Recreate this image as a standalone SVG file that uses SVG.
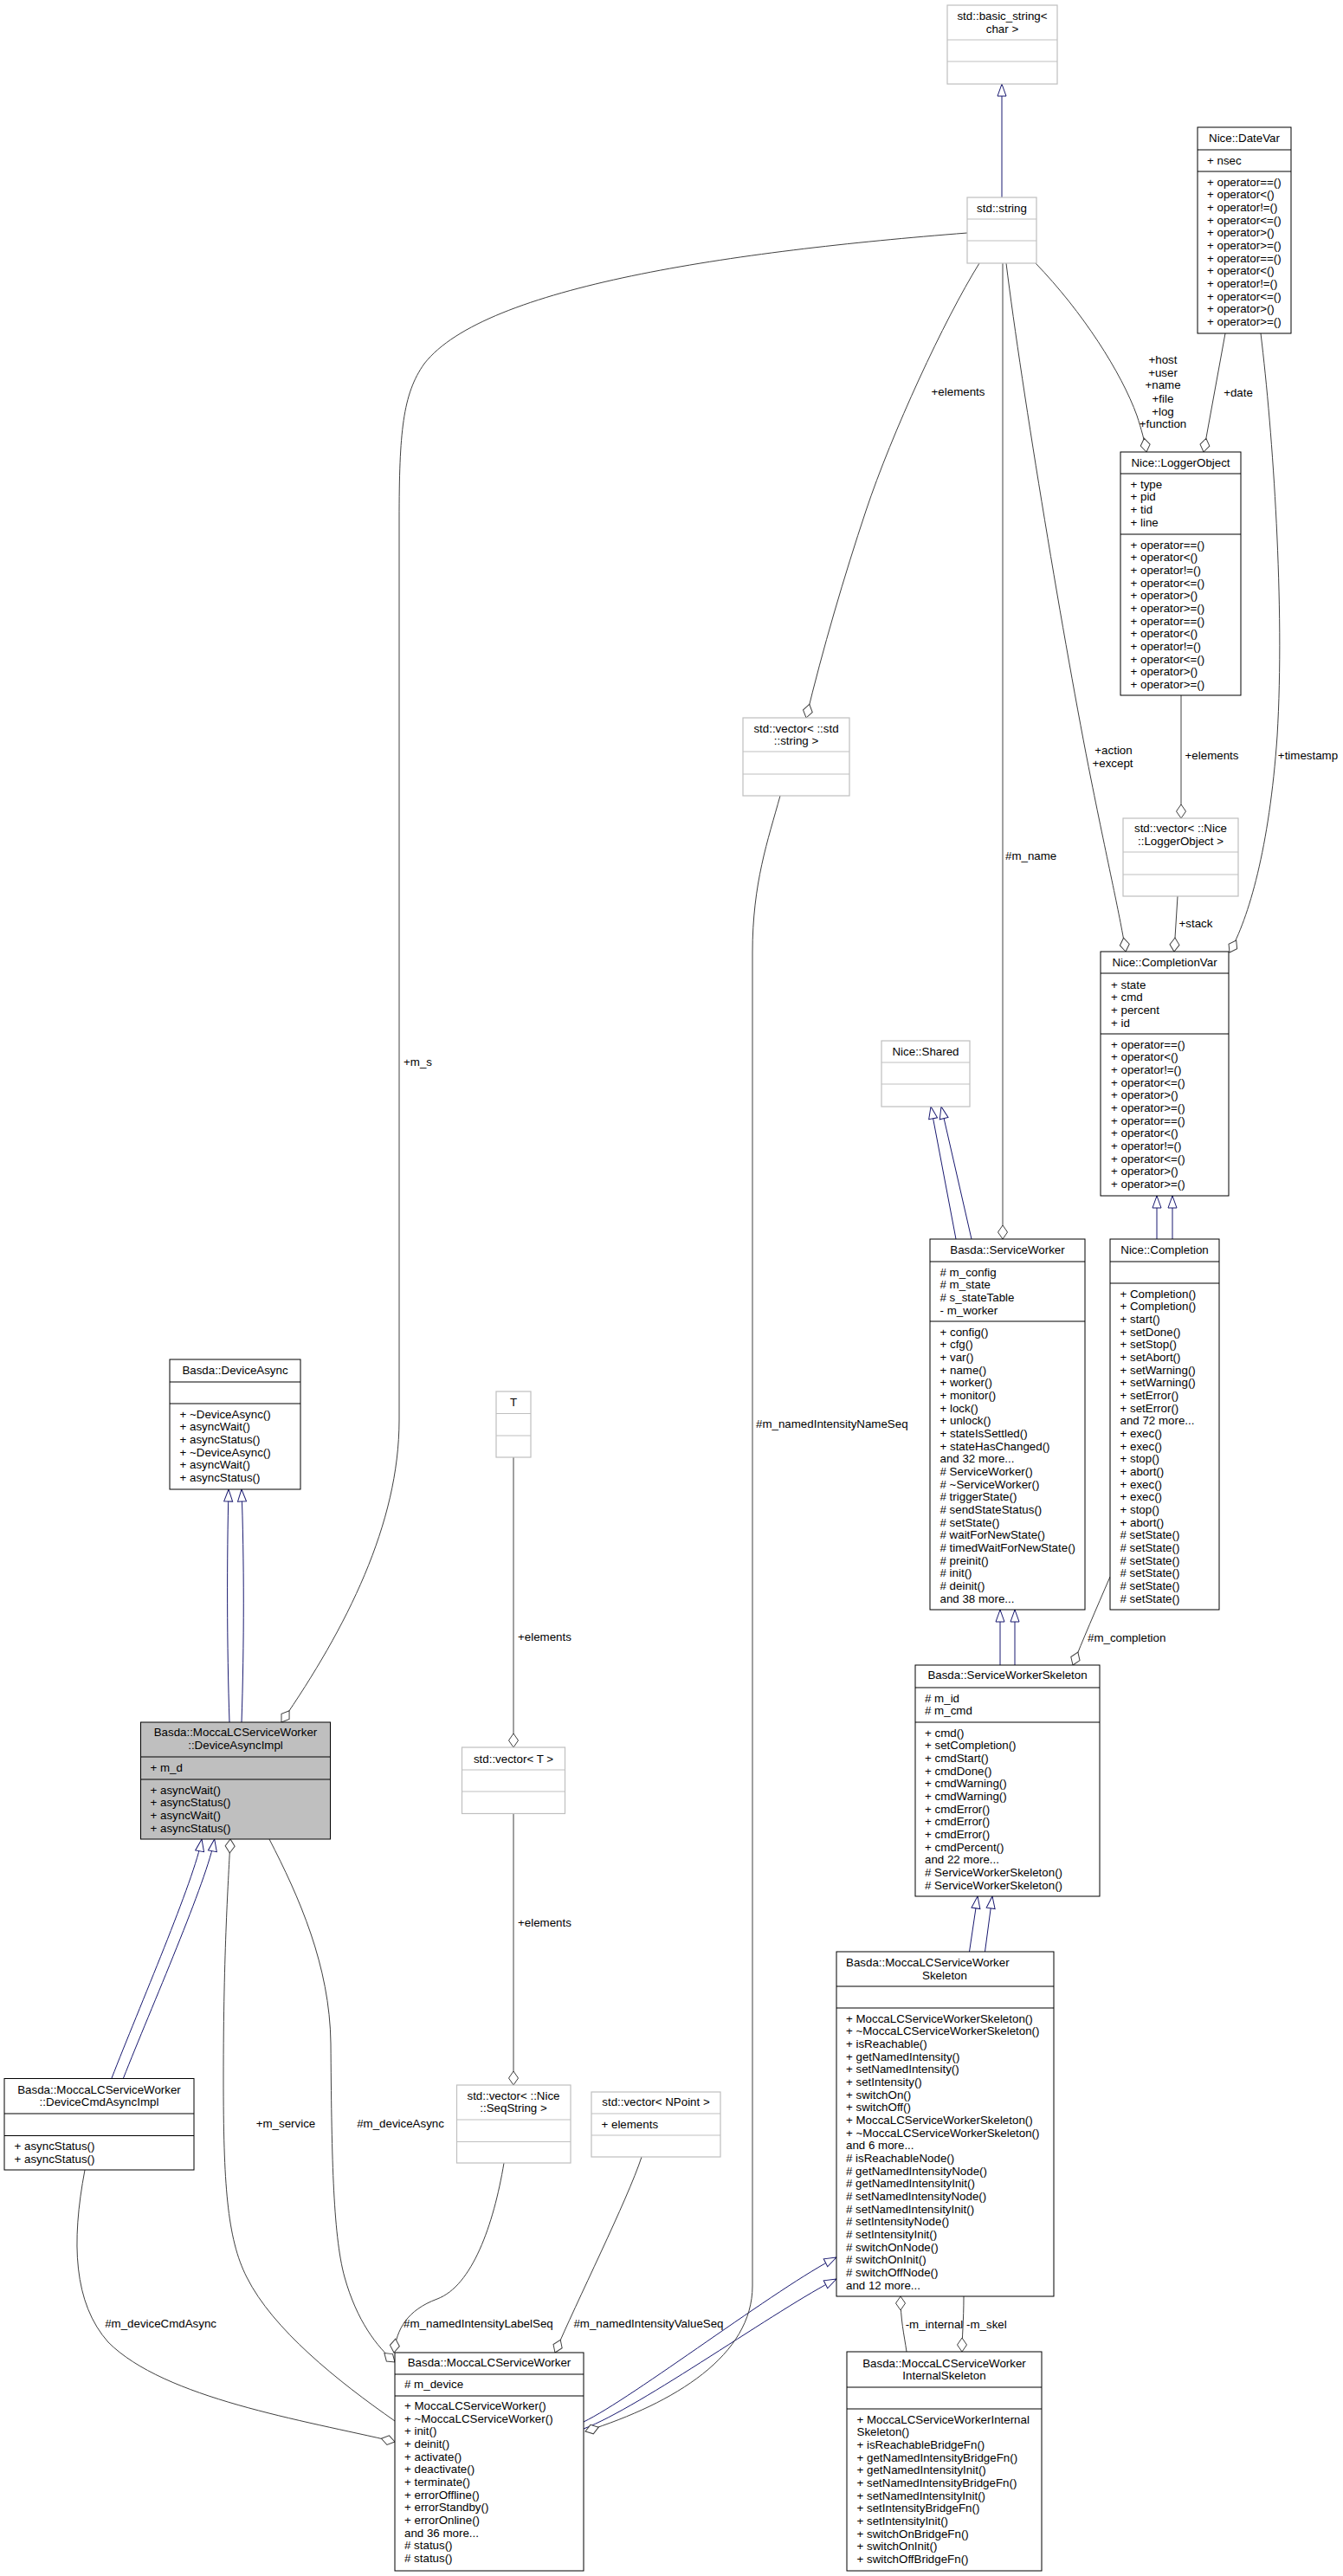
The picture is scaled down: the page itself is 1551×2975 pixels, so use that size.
<svg xmlns="http://www.w3.org/2000/svg" width="1551" height="2975" viewBox="0 0 1551 2975">
<style>
text{font-family:"Liberation Sans",Arial,Helvetica,sans-serif;font-size:13.33px;fill:#000}
.c{text-anchor:middle}
.n{fill:#fff;stroke:#000;stroke-width:1}
.g{fill:#fff;stroke:#bfbfbf;stroke-width:1.2}
.f{fill:#bfbfbf;stroke:#000;stroke-width:1}
.sn{stroke:#000;stroke-width:1}
.sg{stroke:#bfbfbf;stroke-width:1.2}
.e{fill:none;stroke:#404040;stroke-width:1}
.i{fill:none;stroke:#191970;stroke-width:1}
</style>
<defs>
<marker id="dm" markerUnits="userSpaceOnUse" markerWidth="18" markerHeight="13" refX="17" refY="6.5" orient="auto"><path d="M17,6.5 L9,1 L1,6.5 L9,12 Z" fill="#fff" stroke="#404040"/></marker>
<marker id="tr" markerUnits="userSpaceOnUse" markerWidth="16" markerHeight="12" refX="15" refY="6" orient="auto"><path d="M15,6 L1,1 L1,11 Z" fill="#fff" stroke="#191970"/></marker>
</defs>
<rect x="0" y="0" width="1551" height="2975" fill="#fff"/>
<g id="connectors">
<g class="inherit">
<path class="i" marker-end="url(#tr)" d="M1157,228 L1157,97"/>
<path class="i" marker-end="url(#tr)" d="M1104,1431 L1075,1278"/>
<path class="i" marker-end="url(#tr)" d="M1122,1431 L1087,1278"/>
<path class="i" marker-end="url(#tr)" d="M1336,1431 L1336,1381"/>
<path class="i" marker-end="url(#tr)" d="M1354,1431 L1354,1381"/>
<path class="i" marker-end="url(#tr)" d="M1155,1923 L1155,1859"/>
<path class="i" marker-end="url(#tr)" d="M1172,1923 L1172,1859"/>
<path class="i" marker-end="url(#tr)" d="M1119.5,2254 L1129,2190"/>
<path class="i" marker-end="url(#tr)" d="M1137.5,2254 L1146,2190"/>
<path class="i" marker-end="url(#tr)" d="M674,2797 C730,2770 900,2640 966,2607"/>
<path class="i" marker-end="url(#tr)" d="M674,2805 C740,2780 900,2665 966,2632"/>
<path class="i" marker-end="url(#tr)" d="M265,1989 C262,1900 262,1800 264,1720"/>
<path class="i" marker-end="url(#tr)" d="M279,1989 C282,1900 282,1800 279,1720"/>
<path class="i" marker-end="url(#tr)" d="M129,2400 C160,2320 225,2170 233,2124"/>
<path class="i" marker-end="url(#tr)" d="M142.5,2400 C174,2320 240,2170 247.7,2124"/>
</g>
<g class="usage">
<path class="e" marker-end="url(#dm)" d="M1117,269 C850,290 560,330 490,420 C465,455 461,500 461,600 L461,1640 C461,1760 400,1880 325,1989"/>
<path class="e" marker-end="url(#dm)" d="M1131,304 C1090,370 1030,500 1000,590 C975,665 950,750 931,829"/>
<path class="e" marker-end="url(#dm)" d="M1158,304 L1158,1431"/>
<path class="e" marker-end="url(#dm)" d="M1162,304 C1180,450 1230,750 1260,900 C1280,1000 1294,1060 1300,1099"/>
<path class="e" marker-end="url(#dm)" d="M1196,304 C1250,360 1295,430 1313,480 C1318,495 1322,510 1324,522"/>
<path class="e" marker-end="url(#dm)" d="M1415,385 L1390,522"/>
<path class="e" marker-end="url(#dm)" d="M1456,385 C1470,500 1484,700 1475,850 C1466,980 1442,1060 1420,1100"/>
<path class="e" marker-end="url(#dm)" d="M1364,803 L1364,945"/>
<path class="e" marker-end="url(#dm)" d="M1360,1035 L1356,1099"/>
<path class="e" marker-end="url(#dm)" d="M1282,1821 C1266,1858 1250,1895 1239,1923"/>
<path class="e" marker-end="url(#dm)" d="M1047,2716 C1044,2695 1040,2680 1040,2652"/>
<path class="e" marker-end="url(#dm)" d="M1113,2652 C1113,2680 1111,2700 1111,2716"/>
<path class="e" marker-end="url(#dm)" d="M593,1683 L593,2018"/>
<path class="e" marker-end="url(#dm)" d="M593,2095 L593,2408"/>
<path class="e" marker-end="url(#dm)" d="M582,2498 C570,2570 545,2640 505,2655 C470,2668 458,2690 455,2717"/>
<path class="e" marker-end="url(#dm)" d="M741,2491 C725,2540 665,2660 641,2717"/>
<path class="e" marker-end="url(#dm)" d="M901,919 C887,970 869,1020 869,1100 L869,2640 C869,2720 780,2775 676,2808"/>
<path class="e" marker-end="url(#dm)" d="M98,2506 C82,2590 85,2660 125,2705 C190,2770 350,2795 456,2820"/>
<path class="e" marker-end="url(#dm)" d="M456,2796 C390,2750 315,2690 285,2630 C262,2585 258,2520 258,2400 C258,2250 264,2170 266,2124"/>
<path class="e" marker-end="url(#dm)" d="M311,2124 C345,2190 381,2270 382,2360 C383,2480 384,2580 398,2630 C412,2680 435,2710 456,2728"/>
</g>
<g class="labels">
<text x="466" y="1230.5">+m_s</text>
<text class="c" x="1106.5" y="457">+elements</text>
<text x="1161" y="993">#m_name</text>
<text x="873" y="1649">#m_namedIntensityNameSeq</text>
<text x="598" y="1895">+elements</text>
<text x="598" y="2225">+elements</text>
<text class="c" x="330" y="2457">+m_service</text>
<text class="c" x="462.5" y="2457">#m_deviceAsync</text>
<text class="c" x="185.6" y="2688">#m_deviceCmdAsync</text>
<text class="c" x="552.4" y="2688">#m_namedIntensityLabelSeq</text>
<text x="662.4" y="2688">#m_namedIntensityValueSeq</text>
<text class="c" x="1079" y="2688.5">-m_internal</text>
<text class="c" x="1139.4" y="2688.5">-m_skel</text>
<text x="1256" y="1895.5">#m_completion</text>
<text class="c" x="1381" y="1071">+stack</text>
<text class="c" x="1399.5" y="877">+elements</text>
<text class="c" x="1510.5" y="877">+timestamp</text>
<text class="c" x="1286" y="870.5">+action</text>
<text class="c" x="1285" y="885.5">+except</text>
<text class="c" x="1343" y="420">+host</text>
<text class="c" x="1343" y="435">+user</text>
<text class="c" x="1343" y="449">+name</text>
<text class="c" x="1343" y="464.5">+file</text>
<text class="c" x="1343" y="479.5">+log</text>
<text class="c" x="1343" y="493.5">+function</text>
<text class="c" x="1430" y="457.5">+date</text>
</g>
</g>
<g id="basic_string">
<rect class="g" x="1094" y="6" width="127" height="91"/>
<line class="sg" x1="1094" y1="46" x2="1221" y2="46"/><line class="sg" x1="1094" y1="71" x2="1221" y2="71"/>
<text class="c" x="1157.5" y="22.5">std::basic_string&lt;</text>
<text class="c" x="1157.5" y="37.5">char &gt;</text>
</g>
<g id="std_string">
<rect class="g" x="1117" y="228" width="80" height="76"/>
<line class="sg" x1="1117" y1="253" x2="1197" y2="253"/><line class="sg" x1="1117" y1="278" x2="1197" y2="278"/>
<text class="c" x="1157" y="244.5">std::string</text>
</g>
<g id="DateVar">
<rect class="n" x="1383" y="147" width="108" height="238"/>
<line class="sn" x1="1383" y1="173" x2="1491" y2="173"/><line class="sn" x1="1383" y1="198" x2="1491" y2="198"/>
<text class="c" x="1437" y="163.5">Nice::DateVar</text>
<text x="1394" y="189.5">+ nsec</text>
<text><tspan x="1394" y="214.5">+ operator==()</tspan><tspan x="1394" y="229.2">+ operator&lt;()</tspan><tspan x="1394" y="243.8">+ operator!=()</tspan><tspan x="1394" y="258.5">+ operator&lt;=()</tspan><tspan x="1394" y="273.2">+ operator&gt;()</tspan><tspan x="1394" y="287.8">+ operator&gt;=()</tspan><tspan x="1394" y="302.5">+ operator==()</tspan><tspan x="1394" y="317.2">+ operator&lt;()</tspan><tspan x="1394" y="331.9">+ operator!=()</tspan><tspan x="1394" y="346.5">+ operator&lt;=()</tspan><tspan x="1394" y="361.2">+ operator&gt;()</tspan><tspan x="1394" y="375.9">+ operator&gt;=()</tspan></text>
</g>
<g id="LoggerObject">
<rect class="n" x="1294" y="522" width="139" height="281"/>
<line class="sn" x1="1294" y1="547" x2="1433" y2="547"/><line class="sn" x1="1294" y1="617" x2="1433" y2="617"/>
<text class="c" x="1363.5" y="538.5">Nice::LoggerObject</text>
<text><tspan x="1305.5" y="563.5">+ type</tspan><tspan x="1305.5" y="578.2">+ pid</tspan><tspan x="1305.5" y="592.8">+ tid</tspan><tspan x="1305.5" y="607.5">+ line</tspan></text>
<text><tspan x="1305.5" y="633.5">+ operator==()</tspan><tspan x="1305.5" y="648.2">+ operator&lt;()</tspan><tspan x="1305.5" y="662.8">+ operator!=()</tspan><tspan x="1305.5" y="677.5">+ operator&lt;=()</tspan><tspan x="1305.5" y="692.2">+ operator&gt;()</tspan><tspan x="1305.5" y="706.8">+ operator&gt;=()</tspan><tspan x="1305.5" y="721.5">+ operator==()</tspan><tspan x="1305.5" y="736.2">+ operator&lt;()</tspan><tspan x="1305.5" y="750.9">+ operator!=()</tspan><tspan x="1305.5" y="765.5">+ operator&lt;=()</tspan><tspan x="1305.5" y="780.2">+ operator&gt;()</tspan><tspan x="1305.5" y="794.9">+ operator&gt;=()</tspan></text>
</g>
<g id="vector_LoggerObject">
<rect class="g" x="1297" y="945" width="133" height="90"/>
<line class="sg" x1="1297" y1="984" x2="1430" y2="984"/><line class="sg" x1="1297" y1="1010" x2="1430" y2="1010"/>
<text class="c" x="1363.5" y="961">std::vector&lt; ::Nice</text>
<text class="c" x="1363.5" y="975.5">::LoggerObject &gt;</text>
</g>
<g id="CompletionVar">
<rect class="n" x="1271" y="1099" width="148" height="282"/>
<line class="sn" x1="1271" y1="1124" x2="1419" y2="1124"/><line class="sn" x1="1271" y1="1194" x2="1419" y2="1194"/>
<text class="c" x="1345" y="1115.5">Nice::CompletionVar</text>
<text><tspan x="1283" y="1141.5">+ state</tspan><tspan x="1283" y="1156.2">+ cmd</tspan><tspan x="1283" y="1170.8">+ percent</tspan><tspan x="1283" y="1185.5">+ id</tspan></text>
<text><tspan x="1283" y="1210.5">+ operator==()</tspan><tspan x="1283" y="1225.2">+ operator&lt;()</tspan><tspan x="1283" y="1239.8">+ operator!=()</tspan><tspan x="1283" y="1254.5">+ operator&lt;=()</tspan><tspan x="1283" y="1269.2">+ operator&gt;()</tspan><tspan x="1283" y="1283.8">+ operator&gt;=()</tspan><tspan x="1283" y="1298.5">+ operator==()</tspan><tspan x="1283" y="1313.2">+ operator&lt;()</tspan><tspan x="1283" y="1327.9">+ operator!=()</tspan><tspan x="1283" y="1342.5">+ operator&lt;=()</tspan><tspan x="1283" y="1357.2">+ operator&gt;()</tspan><tspan x="1283" y="1371.9">+ operator&gt;=()</tspan></text>
</g>
<g id="vector_string">
<rect class="g" x="858" y="829" width="123" height="90"/>
<line class="sg" x1="858" y1="868" x2="981" y2="868"/><line class="sg" x1="858" y1="894" x2="981" y2="894"/>
<text class="c" x="919.5" y="845.5">std::vector&lt; ::std</text>
<text class="c" x="919.5" y="859.5">::string &gt;</text>
</g>
<g id="Shared">
<rect class="g" x="1018" y="1202" width="102" height="76"/>
<line class="sg" x1="1018" y1="1227" x2="1120" y2="1227"/><line class="sg" x1="1018" y1="1252" x2="1120" y2="1252"/>
<text class="c" x="1069" y="1218.5">Nice::Shared</text>
</g>
<g id="ServiceWorker">
<rect class="n" x="1074" y="1431" width="179" height="428"/>
<line class="sn" x1="1074" y1="1457" x2="1253" y2="1457"/><line class="sn" x1="1074" y1="1526" x2="1253" y2="1526"/>
<text class="c" x="1163.5" y="1447.5">Basda::ServiceWorker</text>
<text><tspan x="1085.5" y="1473.5"># m_config</tspan><tspan x="1085.5" y="1488.2"># m_state</tspan><tspan x="1085.5" y="1502.8"># s_stateTable</tspan><tspan x="1085.5" y="1517.5">- m_worker</tspan></text>
<text><tspan x="1085.5" y="1542.5">+ config()</tspan><tspan x="1085.5" y="1557.2">+ cfg()</tspan><tspan x="1085.5" y="1571.8">+ var()</tspan><tspan x="1085.5" y="1586.5">+ name()</tspan><tspan x="1085.5" y="1601.2">+ worker()</tspan><tspan x="1085.5" y="1615.8">+ monitor()</tspan><tspan x="1085.5" y="1630.5">+ lock()</tspan><tspan x="1085.5" y="1645.2">+ unlock()</tspan><tspan x="1085.5" y="1659.9">+ stateIsSettled()</tspan><tspan x="1085.5" y="1674.5">+ stateHasChanged()</tspan><tspan x="1085.5" y="1689.2">and 32 more...</tspan><tspan x="1085.5" y="1703.9"># ServiceWorker()</tspan><tspan x="1085.5" y="1718.5"># ~ServiceWorker()</tspan><tspan x="1085.5" y="1733.2"># triggerState()</tspan><tspan x="1085.5" y="1747.9"># sendStateStatus()</tspan><tspan x="1085.5" y="1762.5"># setState()</tspan><tspan x="1085.5" y="1777.2"># waitForNewState()</tspan><tspan x="1085.5" y="1791.9"># timedWaitForNewState()</tspan><tspan x="1085.5" y="1806.6"># preinit()</tspan><tspan x="1085.5" y="1821.2"># init()</tspan><tspan x="1085.5" y="1835.9"># deinit()</tspan><tspan x="1085.5" y="1850.6">and 38 more...</tspan></text>
</g>
<g id="Completion">
<rect class="n" x="1282" y="1431" width="126" height="428"/>
<line class="sn" x1="1282" y1="1457" x2="1408" y2="1457"/><line class="sn" x1="1282" y1="1482" x2="1408" y2="1482"/>
<text class="c" x="1345" y="1447.5">Nice::Completion</text>
<text><tspan x="1293.5" y="1498.5">+ Completion()</tspan><tspan x="1293.5" y="1513.2">+ Completion()</tspan><tspan x="1293.5" y="1527.8">+ start()</tspan><tspan x="1293.5" y="1542.5">+ setDone()</tspan><tspan x="1293.5" y="1557.2">+ setStop()</tspan><tspan x="1293.5" y="1571.8">+ setAbort()</tspan><tspan x="1293.5" y="1586.5">+ setWarning()</tspan><tspan x="1293.5" y="1601.2">+ setWarning()</tspan><tspan x="1293.5" y="1615.9">+ setError()</tspan><tspan x="1293.5" y="1630.5">+ setError()</tspan><tspan x="1293.5" y="1645.2">and 72 more...</tspan><tspan x="1293.5" y="1659.9">+ exec()</tspan><tspan x="1293.5" y="1674.5">+ exec()</tspan><tspan x="1293.5" y="1689.2">+ stop()</tspan><tspan x="1293.5" y="1703.9">+ abort()</tspan><tspan x="1293.5" y="1718.5">+ exec()</tspan><tspan x="1293.5" y="1733.2">+ exec()</tspan><tspan x="1293.5" y="1747.9">+ stop()</tspan><tspan x="1293.5" y="1762.6">+ abort()</tspan><tspan x="1293.5" y="1777.2"># setState()</tspan><tspan x="1293.5" y="1791.9"># setState()</tspan><tspan x="1293.5" y="1806.6"># setState()</tspan><tspan x="1293.5" y="1821.2"># setState()</tspan><tspan x="1293.5" y="1835.9"># setState()</tspan><tspan x="1293.5" y="1850.6"># setState()</tspan></text>
</g>
<g id="ServiceWorkerSkeleton">
<rect class="n" x="1057" y="1923" width="213" height="267"/>
<line class="sn" x1="1057" y1="1949" x2="1270" y2="1949"/><line class="sn" x1="1057" y1="1989" x2="1270" y2="1989"/>
<text class="c" x="1163.5" y="1938.5">Basda::ServiceWorkerSkeleton</text>
<text><tspan x="1068" y="1965.5"># m_id</tspan><tspan x="1068" y="1980"># m_cmd</tspan></text>
<text><tspan x="1068" y="2005.5">+ cmd()</tspan><tspan x="1068" y="2020.2">+ setCompletion()</tspan><tspan x="1068" y="2034.8">+ cmdStart()</tspan><tspan x="1068" y="2049.5">+ cmdDone()</tspan><tspan x="1068" y="2064.2">+ cmdWarning()</tspan><tspan x="1068" y="2078.8">+ cmdWarning()</tspan><tspan x="1068" y="2093.5">+ cmdError()</tspan><tspan x="1068" y="2108.2">+ cmdError()</tspan><tspan x="1068" y="2122.9">+ cmdError()</tspan><tspan x="1068" y="2137.5">+ cmdPercent()</tspan><tspan x="1068" y="2152.2">and 22 more...</tspan><tspan x="1068" y="2166.9"># ServiceWorkerSkeleton()</tspan><tspan x="1068" y="2181.5"># ServiceWorkerSkeleton()</tspan></text>
</g>
<g id="MoccaLCServiceWorkerSkeleton">
<rect class="n" x="966" y="2254" width="251" height="398"/>
<line class="sn" x1="966" y1="2294" x2="1217" y2="2294"/><line class="sn" x1="966" y1="2319" x2="1217" y2="2319"/>
<text x="977" y="2270.5">Basda::MoccaLCServiceWorker</text>
<text class="c" x="1091" y="2285.5">Skeleton</text>
<text><tspan x="977" y="2335.5">+ MoccaLCServiceWorkerSkeleton()</tspan><tspan x="977" y="2350.2">+ ~MoccaLCServiceWorkerSkeleton()</tspan><tspan x="977" y="2364.8">+ isReachable()</tspan><tspan x="977" y="2379.5">+ getNamedIntensity()</tspan><tspan x="977" y="2394.2">+ setNamedIntensity()</tspan><tspan x="977" y="2408.8">+ setIntensity()</tspan><tspan x="977" y="2423.5">+ switchOn()</tspan><tspan x="977" y="2438.2">+ switchOff()</tspan><tspan x="977" y="2452.9">+ MoccaLCServiceWorkerSkeleton()</tspan><tspan x="977" y="2467.5">+ ~MoccaLCServiceWorkerSkeleton()</tspan><tspan x="977" y="2482.2">and 6 more...</tspan><tspan x="977" y="2496.9"># isReachableNode()</tspan><tspan x="977" y="2511.5"># getNamedIntensityNode()</tspan><tspan x="977" y="2526.2"># getNamedIntensityInit()</tspan><tspan x="977" y="2540.9"># setNamedIntensityNode()</tspan><tspan x="977" y="2555.5"># setNamedIntensityInit()</tspan><tspan x="977" y="2570.2"># setIntensityNode()</tspan><tspan x="977" y="2584.9"># setIntensityInit()</tspan><tspan x="977" y="2599.6"># switchOnNode()</tspan><tspan x="977" y="2614.2"># switchOnInit()</tspan><tspan x="977" y="2628.9"># switchOffNode()</tspan><tspan x="977" y="2643.6">and 12 more...</tspan></text>
</g>
<g id="MoccaLCServiceWorkerInternalSkeleton">
<rect class="n" x="978" y="2716" width="225" height="253"/>
<line class="sn" x1="978" y1="2757" x2="1203" y2="2757"/><line class="sn" x1="978" y1="2782" x2="1203" y2="2782"/>
<text class="c" x="1090.5" y="2733.5">Basda::MoccaLCServiceWorker</text>
<text class="c" x="1090.5" y="2747.5">InternalSkeleton</text>
<text><tspan x="989.5" y="2798.5">+ MoccaLCServiceWorkerInternal</tspan><tspan x="989.5" y="2813.2">Skeleton()</tspan><tspan x="989.5" y="2827.8">+ isReachableBridgeFn()</tspan><tspan x="989.5" y="2842.5">+ getNamedIntensityBridgeFn()</tspan><tspan x="989.5" y="2857.2">+ getNamedIntensityInit()</tspan><tspan x="989.5" y="2871.8">+ setNamedIntensityBridgeFn()</tspan><tspan x="989.5" y="2886.5">+ setNamedIntensityInit()</tspan><tspan x="989.5" y="2901.2">+ setIntensityBridgeFn()</tspan><tspan x="989.5" y="2915.9">+ setIntensityInit()</tspan><tspan x="989.5" y="2930.5">+ switchOnBridgeFn()</tspan><tspan x="989.5" y="2945.2">+ switchOnInit()</tspan><tspan x="989.5" y="2959.9">+ switchOffBridgeFn()</tspan></text>
</g>
<g id="DeviceAsync">
<rect class="n" x="196" y="1570" width="151" height="150"/>
<line class="sn" x1="196" y1="1596" x2="347" y2="1596"/><line class="sn" x1="196" y1="1621" x2="347" y2="1621"/>
<text class="c" x="271.5" y="1587">Basda::DeviceAsync</text>
<text><tspan x="207.5" y="1637.5">+ ~DeviceAsync()</tspan><tspan x="207.5" y="1652.2">+ asyncWait()</tspan><tspan x="207.5" y="1666.8">+ asyncStatus()</tspan><tspan x="207.5" y="1681.5">+ ~DeviceAsync()</tspan><tspan x="207.5" y="1696.2">+ asyncWait()</tspan><tspan x="207.5" y="1710.8">+ asyncStatus()</tspan></text>
</g>
<g id="DeviceAsyncImpl">
<rect class="f" x="162.5" y="1989" width="219" height="135"/>
<line class="sn" x1="162.5" y1="2029" x2="381.5" y2="2029"/><line class="sn" x1="162.5" y1="2055" x2="381.5" y2="2055"/>
<text class="c" x="272" y="2005">Basda::MoccaLCServiceWorker</text>
<text class="c" x="272" y="2020">::DeviceAsyncImpl</text>
<text x="173.5" y="2045.5">+ m_d</text>
<text><tspan x="173.5" y="2071.5">+ asyncWait()</tspan><tspan x="173.5" y="2086.2">+ asyncStatus()</tspan><tspan x="173.5" y="2100.8">+ asyncWait()</tspan><tspan x="173.5" y="2115.5">+ asyncStatus()</tspan></text>
</g>
<g id="DeviceCmdAsyncImpl">
<rect class="n" x="5" y="2400.5" width="219" height="105.5"/>
<line class="sn" x1="5" y1="2441" x2="224" y2="2441"/><line class="sn" x1="5" y1="2466.5" x2="224" y2="2466.5"/>
<text class="c" x="114.5" y="2417.5">Basda::MoccaLCServiceWorker</text>
<text class="c" x="114.5" y="2432">::DeviceCmdAsyncImpl</text>
<text><tspan x="16.5" y="2483">+ asyncStatus()</tspan><tspan x="16.5" y="2497.7">+ asyncStatus()</tspan></text>
</g>
<g id="T">
<rect class="g" x="573" y="1607" width="40" height="76"/>
<line class="sg" x1="573" y1="1632.5" x2="613" y2="1632.5"/><line class="sg" x1="573" y1="1658" x2="613" y2="1658"/>
<text class="c" x="593" y="1623.5">T</text>
</g>
<g id="vector_T">
<rect class="g" x="533.5" y="2018" width="119" height="76.5"/>
<line class="sg" x1="533.5" y1="2044" x2="652.5" y2="2044"/><line class="sg" x1="533.5" y1="2069" x2="652.5" y2="2069"/>
<text class="c" x="593" y="2035.5">std::vector&lt; T &gt;</text>
</g>
<g id="vector_SeqString">
<rect class="g" x="527.5" y="2408" width="131.5" height="90"/>
<line class="sg" x1="527.5" y1="2448" x2="659" y2="2448"/><line class="sg" x1="527.5" y1="2473.5" x2="659" y2="2473.5"/>
<text class="c" x="593" y="2424.5">std::vector&lt; ::Nice</text>
<text class="c" x="593" y="2439">::SeqString &gt;</text>
</g>
<g id="vector_NPoint">
<rect class="g" x="683" y="2416" width="149" height="75"/>
<line class="sg" x1="683" y1="2441" x2="832" y2="2441"/><line class="sg" x1="683" y1="2466" x2="832" y2="2466"/>
<text class="c" x="757.5" y="2431.5">std::vector&lt; NPoint &gt;</text>
<text x="694.5" y="2457.5">+ elements</text>
</g>
<g id="MoccaLCServiceWorker">
<rect class="n" x="456" y="2717" width="218" height="252"/>
<line class="sn" x1="456" y1="2742" x2="674" y2="2742"/><line class="sn" x1="456" y1="2767" x2="674" y2="2767"/>
<text class="c" x="565" y="2733">Basda::MoccaLCServiceWorker</text>
<text x="467" y="2758"># m_device</text>
<text><tspan x="467" y="2783">+ MoccaLCServiceWorker()</tspan><tspan x="467" y="2797.7">+ ~MoccaLCServiceWorker()</tspan><tspan x="467" y="2812.3">+ init()</tspan><tspan x="467" y="2827">+ deinit()</tspan><tspan x="467" y="2841.7">+ activate()</tspan><tspan x="467" y="2856.3">+ deactivate()</tspan><tspan x="467" y="2871">+ terminate()</tspan><tspan x="467" y="2885.7">+ errorOffline()</tspan><tspan x="467" y="2900.4">+ errorStandby()</tspan><tspan x="467" y="2915">+ errorOnline()</tspan><tspan x="467" y="2929.7">and 36 more...</tspan><tspan x="467" y="2944.4"># status()</tspan><tspan x="467" y="2959"># status()</tspan></text>
</g>
</svg>
